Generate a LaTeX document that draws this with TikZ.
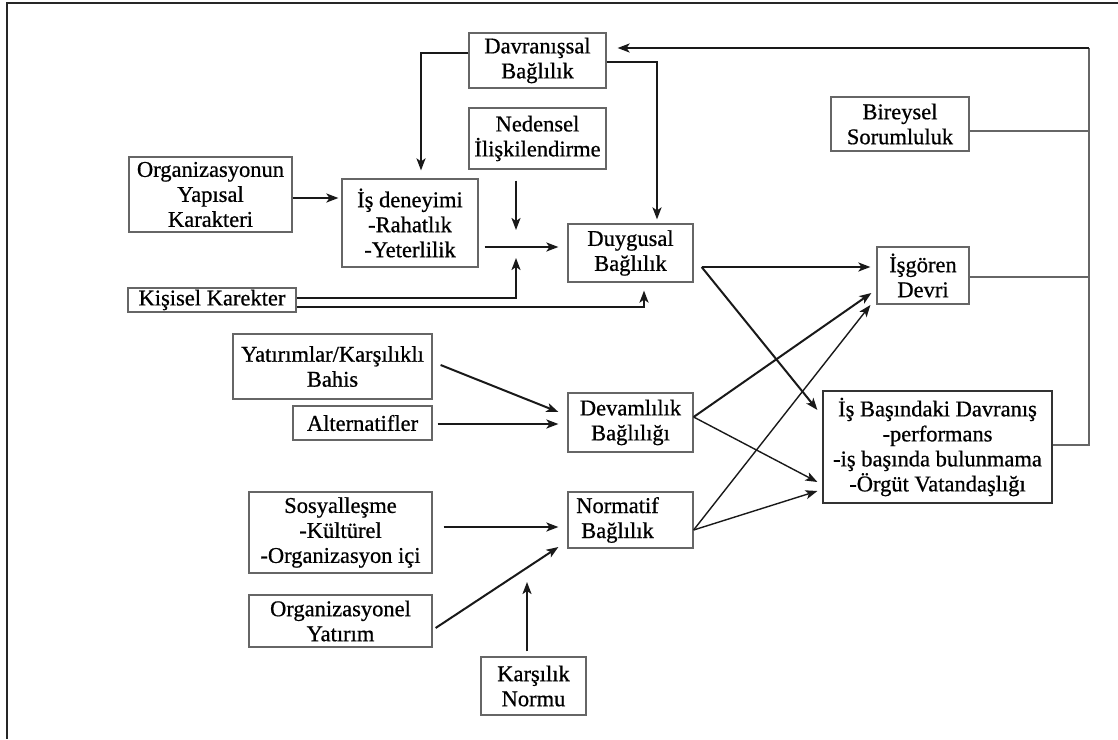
\documentclass[tikz,border=0pt]{standalone}
\usepackage{fontspec}
\setmainfont{Liberation Serif}[FakeBold=0.7]
\usetikzlibrary{arrows.meta}
\begin{document}
\begin{tikzpicture}[x=1pt,y=-1pt,
  txt/.style={font=\fontsize{22.5}{25}\selectfont},
  box/.style={txt, draw=black!60, line width=1.2pt, fill=white, align=center, inner sep=0pt},
  arr/.style={-{Stealth[length=12pt,width=9pt,inset=3pt]}, line width=2pt, black!90},
  arrthin/.style={arr, line width=1.4pt},
  rail/.style={line width=1.4pt, black!60}]
\useasboundingbox (0,0) rectangle (1118,739);
% page frame
\draw[line width=2pt, black!85] (1118,3) -- (7,3) -- (7,739);

% boxes
\node[box, minimum width=137pt, minimum height=55pt] (dav) at (537.5,60.5) {Davranışsal\\Bağlılık};
\node[box, minimum width=137pt, minimum height=61pt] (ned) at (537.5,138.5) {Nedensel\\İlişkilendirme};
\node[box, minimum width=163pt, minimum height=75pt] (org) at (210.5,194.5) {Organizasyonun\\Yapısal\\Karakteri};
\node[box, minimum width=136pt, minimum height=88pt] (isd) at (410,223) {İş deneyimi\\-Rahatlık\\-Yeterlilik};
\node[box, minimum width=125pt, minimum height=58pt] (duy) at (630.5,253) {Duygusal\\Bağlılık};
\node[box, minimum width=168pt, minimum height=24pt] (kis) at (212,300) {Kişisel Karekter};
\node[box, minimum width=138pt, minimum height=54pt] (bir) at (900,124) {Bireysel\\Sorumluluk};
\node[box, minimum width=92pt, minimum height=57pt] (isg) at (923,275.5) {İşgören\\Devri};
\node[box, minimum width=199pt, minimum height=65pt] (yat) at (332.5,366.5) {Yatırımlar/Karşılıklı\\Bahis};
\node[box, minimum width=139pt, minimum height=34pt] (alt) at (362.5,423) {Alternatifler};
\node[box, minimum width=125pt, minimum height=59pt] (dev) at (630.5,422.5) {Devamlılık\\Bağlılığı};
\node[box, minimum width=183pt, minimum height=81pt] (sos) at (340.5,532.5) {Sosyalleşme\\-Kültürel\\-Organizasyon içi};
\node[box, minimum width=125pt, minimum height=56pt,
      label={[txt, align=center, xshift=-13pt]center:{Normatif\\Bağlılık}}] (nor) at (630.5,520) {};
\node[box, minimum width=183pt, minimum height=52pt] (oyt) at (340.5,621) {Organizasyonel\\Yatırım};
\node[box, minimum width=105pt, minimum height=58pt] (kar) at (533.5,686) {Karşılık\\Normu};
\node[box, draw=black!80, minimum width=229pt, minimum height=112pt] (isb) at (937.5,447)
  {İş Başındaki Davranış\\-performans\\-iş başında bulunmama\\-Örgüt Vatandaşlığı};

% junction points
\coordinate (mid) at (516,247);
\coordinate (railtop) at (1089,48);
\coordinate (nrm) at (527,582);

% upper block
\draw[arr] ([yshift=-3.5pt]org.east) -- ([xshift=-3pt,yshift=-3.5pt]isd.west |- org.east);
\draw[arr] ([yshift=7.5pt]dav.west) -| ([xshift=11pt,yshift=8pt]isd.north);
\draw[arr] ([yshift=-1.5pt]dav.east) -| ([xshift=26.5pt,yshift=4pt]duy.north);
\draw[arr] (ned.south -| mid) ++(0,11) -- ([yshift=17pt]mid);
\draw[arr] ([xshift=6pt]isd.east |- mid) -- ([xshift=-9pt]duy.west |- mid);
\draw[arr] ([yshift=2pt]kis.east) -| ([yshift=-11pt]mid);
\draw[arr] ([yshift=-7pt]kis.east) -| ([xshift=13.5pt,yshift=-8pt]duy.south);

% outcomes of affective commitment
\draw[arr] ([xshift=8pt,yshift=-14pt]duy.east) coordinate (dout) -- ([xshift=-6pt]isg.west |- dout);
\draw[arr] (dout) -- ([xshift=-5pt,yshift=37pt]isb.west);

% continuance commitment
\draw[arr] ([xshift=8pt,yshift=1.5pt]yat.east) -- ([xshift=-9pt,yshift=10.5pt]dev.west);
\draw[arr] ([xshift=5pt,yshift=-1pt]alt.east) -- ([xshift=-9pt,yshift=-1.5pt]dev.west);
\draw[arr] ([yshift=5.5pt]dev.east) -- ([xshift=-5pt,yshift=-17.5pt]isg.west);
\draw[arrthin] ([yshift=5.5pt]dev.east) -- ([xshift=-5pt,yshift=-35pt]isb.west);

% normative commitment
\draw[arr] ([xshift=11pt,yshift=5.5pt]sos.east) -- ([xshift=-9pt,yshift=-7pt]nor.west);
\draw[arr] ([xshift=3pt,yshift=-7pt]oyt.east) -- ([xshift=-9pt,yshift=-27pt]nor.west);
\draw[arr] ([xshift=-6.5pt,yshift=5pt]kar.north) -- (nrm);
\draw[arrthin] ([yshift=-10pt]nor.east) -- ([xshift=-6pt,yshift=-29.5pt]isg.west);
\draw[arrthin] ([yshift=-10pt]nor.east) -- ([xshift=-5pt,yshift=-44pt]isb.west);

% feedback rail
\draw[rail] ([yshift=2pt]isb.east) -| (railtop);
\draw[rail] ([yshift=-7pt]bir.east) -- ([yshift=-7pt]bir.east -| railtop);
\draw[rail] ([yshift=-1.5pt]isg.east) -- ([yshift=-1.5pt]isg.east -| railtop);
\draw[arr] (railtop) -- ([xshift=11pt,yshift=12.5pt]dav.east);
\end{tikzpicture}
\end{document}
